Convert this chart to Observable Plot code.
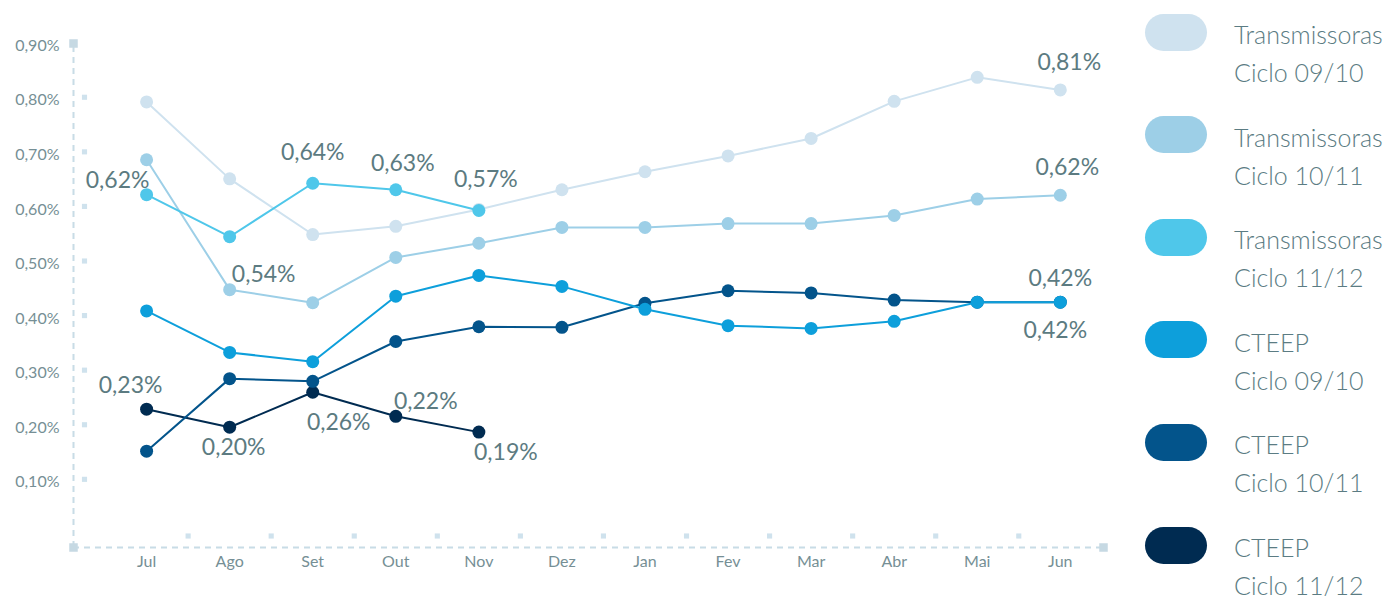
<!DOCTYPE html>
<html>
<head>
<meta charset="utf-8">
<script src="https://cdn.jsdelivr.net/npm/d3@7"></script>
<script src="https://cdn.jsdelivr.net/npm/@observablehq/plot@0.6"></script>
<style>
  html, body { margin: 0; padding: 0; background: #fff; }
  body { width: 1391px; height: 597px; position: relative; overflow: hidden; font-family: Lato, "Open Sans", sans-serif; }
  #chart { position: absolute; left: 0; top: 0; }
  .leg { position: absolute; left: 0; top: 0; }
  .pill { position: absolute; width: 62px; height: 37px; border-radius: 18.5px; }
  .ltxt { position: absolute; color: #5b7c83; font-size: 25px; font-weight: 300; line-height: 20px; height: 20px; white-space: nowrap; transform: translateY(-50%); }
</style>
</head>
<body>
<div id="chart"></div>
<div id="legend" class="leg"></div>
<script>
const months = ["Jul","Ago","Set","Out","Nov","Dez","Jan","Fev","Mar","Abr","Mai","Jun"];
const seriesNames = ["Transmissoras Ciclo 09/10","Transmissoras Ciclo 10/11","Transmissoras Ciclo 11/12","CTEEP Ciclo 09/10","CTEEP Ciclo 10/11","CTEEP Ciclo 11/12"];
const legendLine1 = ["Transmissoras","Transmissoras","Transmissoras","CTEEP","CTEEP","CTEEP"];
const legendLine2 = ["Ciclo 09/10","Ciclo 10/11","Ciclo 11/12","Ciclo 09/10","Ciclo 10/11","Ciclo 11/12"];
const seriesColors = ["#cfe2ef","#9dcfe7","#4fc7ea","#0d9fdb","#03548b","#002b51"];

const trans0910 = [0.797,0.656,0.554,0.569,0.600,0.636,0.669,0.698,0.730,0.798,0.842,0.819];
const trans1011 = [0.691,0.453,0.429,0.512,0.538,0.567,0.567,0.574,0.574,0.589,0.619,0.626];
const trans1112 = [0.627,0.550,0.648,0.636,0.598];
const cteep0910 = [0.414,0.338,0.321,0.441,0.479,0.459,0.417,0.387,0.382,0.395,0.430,0.430];
const cteep1011 = [0.157,0.290,0.285,0.358,0.385,0.384,0.428,0.451,0.447,0.434,0.430,0.430];
const cteep1112 = [0.234,0.201,0.265,0.221,0.192];

const yTicks = [0.1,0.2,0.3,0.4,0.5,0.6,0.7,0.8,0.9];
const yTickLabels = ["0,10%","0,20%","0,30%","0,40%","0,50%","0,60%","0,70%","0,80%","0,90%"];

// value labels: series index, month index, text
const labelSeries = [2,2,2,2,1,5,5,5,5,5,0,1,3,4];
const labelMonth  = [0,2,3,4,1,0,1,2,3,4,11,11,11,11];
const labelText   = ["0,62%","0,64%","0,63%","0,57%","0,54%","0,23%","0,20%","0,26%","0,22%","0,19%","0,81%","0,62%","0,42%","0,42%"];
// label offsets (layout only)
const labelDx = [-29,0,7,7,34,-16,4,26,30,27,9,7,0,-5];
const labelDy = [-14,-31,-26,-31,-15,-24,20,30,-15,21,-27,-28,-24,28];

const allSeries = [trans0910, trans1011, trans1112, cteep0910, cteep1011, cteep1112];
const drawOrder = [0,1,2,5,4,3];

const rows = [];
drawOrder.forEach(s => allSeries[s].forEach((v, i) => rows.push({s, name: seriesNames[s], i, v})));

const labels = labelText.map((t, k) => ({
  t, i: labelMonth[k], v: allSeries[labelSeries[k]][labelMonth[k]], dx: labelDx[k], dy: labelDy[k]
}));

const xMin = -0.88, xMax = 11.52, yMin = -0.0194, yMax = 0.904;
const axisColor = "#c8dce6";
const sqColor = "#cfe2ed";
const font = "Lato, 'Open Sans', sans-serif";

const marks = [
  Plot.ruleX([xMin], {y1: yMin, y2: yMax, stroke: axisColor, strokeWidth: 2, strokeDasharray: "6,5"}),
  Plot.ruleY([yMin], {x1: xMin, x2: xMax, stroke: axisColor, strokeWidth: 2, strokeDasharray: "6,5"}),
  Plot.dot(yTicks.slice(0, 8), {x: xMin, y: d => d, dx: 11, dy: -3, symbol: "square", r: 2.9, fill: sqColor, stroke: "none"}),
  Plot.dot(d3.range(11), {x: d => d + 0.5, y: yMin, dy: -11.5, symbol: "square", r: 2.9, fill: sqColor, stroke: "none"}),
  Plot.dot([[xMin, yMax], [xMin, yMin], [xMax, yMin]], {x: d => d[0], y: d => d[1], symbol: "square", r: 4.8, fill: "#c6d9e3", stroke: "none"}),
  Plot.axisY(yTicks, {tickSize: 0, tickPadding: 14, tickFormat: d => yTickLabels[yTicks.indexOf(d)], fontSize: 16, fontFamily: font, anchor: "left", label: null}),
  Plot.axisX(d3.range(12), {tickSize: 0, tickPadding: 8, tickFormat: d => months[d], fontSize: 16, fontFamily: font, anchor: "bottom", label: null})
];

drawOrder.forEach(s => {
  const data = rows.filter(r => r.s === s);
  marks.push(Plot.line(data, {x: "i", y: "v", stroke: seriesColors[s], strokeWidth: 2}));
  marks.push(Plot.dot(data, {x: "i", y: "v", r: 6.5, fill: seriesColors[s], stroke: "none"}));
});

labels.forEach(l => {
  marks.push(Plot.text([l], {x: "i", y: "v", text: "t", dx: l.dx, dy: l.dy, fontSize: 23, fill: "#5c7b81", fontFamily: font}));
});

const chart = Plot.plot({
  width: 1391,
  height: 597,
  marginLeft: 73,
  marginRight: 288,
  marginTop: 43,
  marginBottom: 50,
  x: {type: "linear", domain: [xMin, xMax], axis: null},
  y: {type: "linear", domain: [yMin, yMax], axis: null},
  style: {color: "#768f95", background: "#fff", overflow: "visible"},
  marks
});
document.getElementById("chart").appendChild(chart);

const leg = document.getElementById("legend");
seriesNames.forEach((n, k) => {
  const cy = 32 + k * 102.6;
  const p = document.createElement("div");
  p.className = "pill";
  p.style.left = "1145px";
  p.style.top = (cy - 18.5) + "px";
  p.style.background = seriesColors[k];
  leg.appendChild(p);
  const t1 = document.createElement("div");
  t1.className = "ltxt";
  t1.style.left = "1234px";
  t1.style.top = (cy + 2) + "px";
  t1.textContent = legendLine1[k];
  leg.appendChild(t1);
  const t2 = document.createElement("div");
  t2.className = "ltxt";
  t2.style.left = "1234px";
  t2.style.top = (cy + 40) + "px";
  t2.textContent = legendLine2[k];
  leg.appendChild(t2);
});
</script>
</body>
</html>
